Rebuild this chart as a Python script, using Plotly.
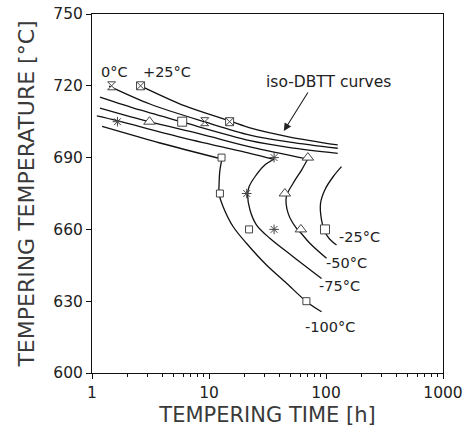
import numpy as np
import plotly.graph_objects as go

# ---------------- data (tempering time [h], tempering temperature [°C]) ----------------
# iso-DBTT curves: upper (near-horizontal) branches and lower (bending) branches
p25_t = [2.62, 6.23, 15.1, 22.4, 49.1, 126]
p25_T = [719.9, 711.6, 705.3, 702.4, 698.6, 695.3]

z0_t = [1.40, 3.13, 9.23, 22.4, 49.1, 126]
z0_T = [719.9, 712.4, 704.9, 699.4, 696.5, 693.9]

m25_up_t = [1.17, 2.57, 5.87, 22.4, 49.1, 126]
m25_up_T = [715.3, 709.9, 704.9, 697.1, 694.2, 691.8]
m25_lo_t = [135.6, 115, 97.7, 89.8, 91.6, 97.7, 107.7, 123]
m25_lo_T = [686.2, 682.0, 676.5, 670.9, 663.9, 659.0, 655.9, 653.5]

m50_up_t = [1.17, 3.13, 8.36, 22.4, 69.9]
m50_up_T = [710.7, 704.9, 699.9, 694.5, 689.4]
m50_lo_t = [69.9, 61.8, 52.4, 45.8, 47.5, 56.0, 61.0, 72.7, 101]
m50_lo_T = [689.4, 684.8, 679.3, 673.7, 666.7, 660.4, 658.5, 654.2, 647.9]

m75_up_t = [1.10, 1.64, 5.64, 22.4, 35.8]
m75_up_T = [707.4, 705.4, 698.6, 691.8, 689.3]
m75_lo_t = [35.8, 30.0, 24.7, 22.0, 21.4, 22.4, 25.5, 33.1, 52.4, 91.6]
m75_lo_T = [689.3, 686.9, 682.0, 677.8, 674.4, 668.1, 661.8, 656.3, 648.6, 639.5]

m100_up_t = [1.22, 3.81, 12.9]
m100_up_T = [703.0, 696.1, 689.4]
m100_lo_t = [12.9, 12.4, 12.2, 12.2, 13.2, 16.1, 20.9, 31.0, 46.0, 68.2, 91.6]
m100_lo_T = [689.4, 684.8, 679.3, 674.7, 669.5, 661.1, 654.2, 645.1, 637.5, 629.8, 625.6]

# measured points
pt_p25_t = [2.6, 15.0]
pt_p25_T = [720, 705]
pt_0_t = [1.47, 9.2]
pt_0_T = [720, 705]
pt_m25_t = [5.9, 98]
pt_m25_T = [705, 660]
pt_m50_t = [3.1, 70, 44.5, 61]
pt_m50_T = [705, 690, 675, 660]
pt_m75_t = [1.65, 36, 21, 36]
pt_m75_T = [705, 690, 675, 660]
pt_m100_t = [12.8, 12.4, 22, 68]
pt_m100_T = [690, 675, 660, 630]

# curve labels
label_text = ["0°C", "+25°C", "-25°C", "-50°C", "-75°C", "-100°C"]
label_t = [1.55, 4.4, 193, 150, 131, 109]
label_T = [725.9, 725.9, 656.7, 645.8, 636.3, 619.3]

x_ticks = [1, 10, 100, 1000]
y_ticks = [600, 630, 660, 690, 720, 750]

FONT = "DejaVu Sans, Arial, sans-serif"
INK = "#222222"
MK = "#444444"

fig = go.Figure()

line_style = dict(color="#111111", width=1.3, shape="spline", smoothing=0.9)
curves = [
    (p25_t, p25_T), (z0_t, z0_T),
    (m25_up_t, m25_up_T), (m25_lo_t, m25_lo_T),
    (m50_up_t, m50_up_T), (m50_lo_t, m50_lo_T),
    (m75_up_t, m75_up_T), (m75_lo_t, m75_lo_T),
    (m100_up_t, m100_up_T), (m100_lo_t, m100_lo_T),
]
for t, T in curves:
    fig.add_trace(go.Scatter(x=t, y=T, mode="lines", line=line_style,
                             showlegend=False, hoverinfo="skip"))

markers = [
    (pt_p25_t, pt_p25_T, "square-x", 8),
    (pt_0_t, pt_0_T, "hourglass", 8),
    (pt_m25_t, pt_m25_T, "square", 9),
    (pt_m50_t, pt_m50_T, "triangle-up", 10),
    (pt_m100_t, pt_m100_T, "square", 7),
]
for t, T, sym, sz in markers:
    fig.add_trace(go.Scatter(x=t, y=T, mode="markers", showlegend=False,
                             marker=dict(symbol=sym, size=sz, color="white",
                                         line=dict(color=MK, width=1))))
fig.add_trace(go.Scatter(x=pt_m75_t, y=pt_m75_T, mode="markers", showlegend=False,
                         marker=dict(symbol="asterisk-open", size=8, color=MK,
                                     line=dict(color=MK, width=1))))

for txt, t, T in zip(label_text, label_t, label_T):
    fig.add_annotation(x=np.log10(t), y=T, text=txt, showarrow=False,
                       font=dict(family=FONT, size=14.5, color=INK))

fig.add_annotation(x=np.log10(106), y=721.7, text="iso-DBTT curves", showarrow=False,
                   font=dict(family=FONT, size=15.5, color=INK))
fig.add_annotation(x=np.log10(43.6), y=701.1, ax=np.log10(71.3), ay=717.8,
                   axref="x", ayref="y", text="", showarrow=True,
                   arrowhead=2, arrowsize=1.4, arrowwidth=1.1, arrowcolor="#222")

axis_common = dict(showline=True, mirror=True, linecolor="#111", linewidth=1,
                   ticks="outside", ticklen=5, tickcolor="#111", showgrid=False,
                   zeroline=False, tickfont=dict(family=FONT, size=15.5, color=INK))

fig.update_xaxes(type="log", range=[0, 3], tickvals=x_ticks,
                 ticktext=[str(v) for v in x_ticks],
                 minor=dict(ticks="outside", ticklen=3, tickcolor="#111", dtick="D1"),
                 title=dict(text="TEMPERING TIME [h]", standoff=6,
                            font=dict(family=FONT, size=21, color="#3a3a3a")),
                 **axis_common)
fig.update_yaxes(range=[600, 750], tickvals=y_ticks,
                 title=dict(text="TEMPERING TEMPERATURE [°C]", standoff=12,
                            font=dict(family=FONT, size=22, color="#3a3a3a")),
                 **axis_common)

fig.update_layout(width=463, height=432,
                  margin=dict(l=92, r=20, t=14, b=59, autoexpand=False),
                  paper_bgcolor="white", plot_bgcolor="white", showlegend=False)

fig.write_html("out.html", config={"displayModeBar": False},
               post_script="document.body.style.margin='0px';")
